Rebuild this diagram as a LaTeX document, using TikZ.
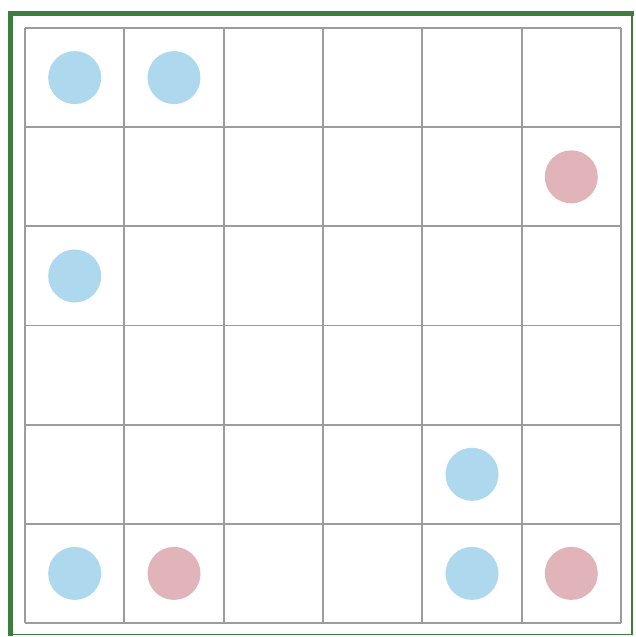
\documentclass[tikz,border=0pt]{standalone}
\definecolor{gridgray}{HTML}{9C9C9C}
\definecolor{framegreen}{HTML}{3E7D3E}
\definecolor{dotblue}{HTML}{ADD8EE}
\definecolor{dotpink}{HTML}{E0B4B8}
\begin{document}
\begin{tikzpicture}[x=1pt,y=-1pt,
  bluedot/.style={circle,fill=dotblue,draw=none,minimum size=53pt,inner sep=0pt},
  pinkdot/.style={circle,fill=dotpink,draw=none,minimum size=53pt,inner sep=0pt},
  gridline/.style={draw=gridgray,line width=1.8pt}]
\useasboundingbox (0,0) rectangle (635,637);
\fill[white] (0,0) rectangle (635,637);
% frame
\draw[framegreen,line width=1.2pt] (632,13) -- (632,634.5) -- (10,634.5);
\draw[framegreen,line width=5pt] (10,636) -- (10,13) -- (634,13);
% grid
\foreach \i in {0,...,6}{
  \pgfmathsetmacro{\xx}{25+\i*99.33}
  \pgfmathsetmacro{\yy}{28+\i*99.17}
  \draw[gridline] (\xx,28) -- (\xx,623);
  \draw[gridline] (25,\yy) -- (621,\yy);
}
% dots
\node[bluedot] (b11) at (74.7,77.6) {};
\node[bluedot] (b12) at (174,77.6) {};
\node[pinkdot] (p26) at (571.3,176.8) {};
\node[bluedot] (b31) at (74.7,276) {};
\node[bluedot] (b55) at (472,474.3) {};
\node[bluedot] (b61) at (74.7,573.4) {};
\node[pinkdot] (p62) at (174,573.4) {};
\node[bluedot] (b65) at (472,573.4) {};
\node[pinkdot] (p66) at (571.3,573.4) {};
\end{tikzpicture}
\end{document}
